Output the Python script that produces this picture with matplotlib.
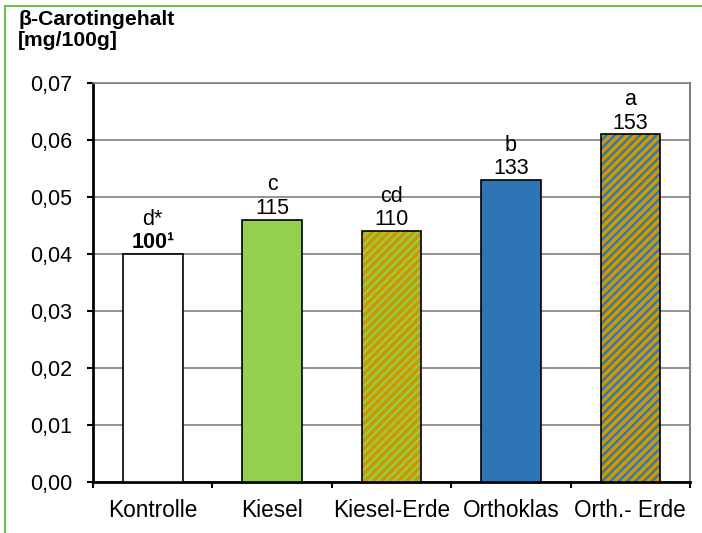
import numpy as np
import matplotlib.pyplot as plt
from matplotlib.lines import Line2D

plt.rcParams['font.family'] = ['Liberation Sans', 'DejaVu Sans']
plt.rcParams['hatch.linewidth'] = 1.6

categories = ['Kontrolle', 'Kiesel', 'Kiesel-Erde', 'Orthoklas', 'Orth.- Erde']
values = [0.040, 0.046, 0.044, 0.053, 0.061]
letters = ['d*', 'c', 'cd', 'b', 'a']
relative = ['100', '115', '110', '133', '153']
face_colors = ['white', '#92D050', '#CC9900', '#2E75B6', '#CC9900']
hatch_colors = [None, None, '#92D050', None, '#2E75B6']
yticks = [0.00, 0.01, 0.02, 0.03, 0.04, 0.05, 0.06, 0.07]

fs = 15.5
fig = plt.figure(figsize=(7.02, 5.33), dpi=100)
ax = fig.add_axes([0.1325, 0.0957, 0.8505, 0.7486])

x = np.arange(len(categories))

# filled bars (hatched ones get a stripe colour of their own)
for i in range(len(categories)):
    if hatch_colors[i]:
        ax.bar(x[i], values[i], width=0.5, color=face_colors[i],
               edgecolor=hatch_colors[i], linewidth=0, hatch='////', zorder=3)
    else:
        ax.bar(x[i], values[i], width=0.5, color=face_colors[i],
               linewidth=0, zorder=3)
# outlines
ax.bar(x, values, width=0.5, facecolor='none', edgecolor='black',
       linewidth=1.2, zorder=4)

# labels above bars
for i in range(len(categories)):
    if i == 0:
        ax.annotate(relative[i] + '\u00b9', (x[i], values[i]), xytext=(0, 0.5),
                    textcoords='offset points', ha='center', va='bottom',
                    fontsize=fs, fontweight='bold')
    else:
        ax.annotate(relative[i], (x[i], values[i]), xytext=(0, 0.5),
                    textcoords='offset points', ha='center', va='bottom',
                    fontsize=fs)
    ax.annotate(letters[i], (x[i], values[i]), xytext=(0, 17.5),
                textcoords='offset points', ha='center', va='bottom',
                fontsize=fs)

ax.set_xlim(-0.5, len(categories) - 0.5)
ax.set_ylim(0, 0.07)
ax.set_yticks(yticks)
ax.set_yticklabels([('%.2f' % v).replace('.', ',') for v in yticks], fontsize=fs)
ax.set_xticks(x)
ax.set_xticklabels(categories, fontsize=16.3)
ax.set_xticks(np.arange(len(categories) + 1) - 0.5, minor=True)
ax.tick_params(axis='x', which='major', length=0, pad=12)
ax.tick_params(axis='x', which='minor', length=4.5, width=1.5, direction='out')
ax.tick_params(axis='y', length=4.5, width=1.5, direction='out', pad=10.5)

ax.grid(axis='y', color='#808080', linewidth=1.2, zorder=0)
ax.set_axisbelow(True)
ax.spines['left'].set_linewidth(2)
ax.spines['bottom'].set_linewidth(2)
ax.spines['right'].set_color('#808080')
ax.spines['right'].set_linewidth(1.5)
ax.spines['top'].set_color('#808080')
ax.spines['top'].set_linewidth(1.2)

fig.text(18 / 702, 1 - 10 / 533, '\u03b2-Carotingehalt\n[mg/100g]', fontsize=15.2,
         fontweight='bold', ha='left', va='top', linespacing=1.15)

# green frame on the left and top
fig.add_artist(Line2D([5 / 702, 5 / 702], [0, 1 - 6 / 533], color='#5cb83c', linewidth=1.3))
fig.add_artist(Line2D([5 / 702, 1], [1 - 6 / 533, 1 - 6 / 533], color='#5cb83c', linewidth=1.3))

fig.savefig('out.png', dpi=100)
